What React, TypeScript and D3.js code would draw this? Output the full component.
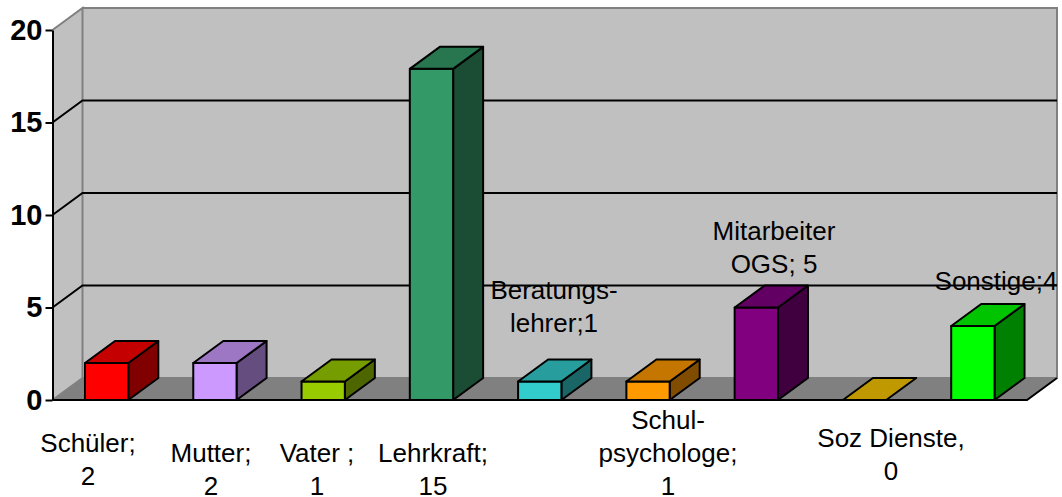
import { useEffect, useRef } from 'react';
import * as d3 from 'd3';

const categories = ['Schüler', 'Mutter', 'Vater', 'Lehrkraft', 'Beratungslehrer', 'Schulpsychologe', 'Mitarbeiter OGS', 'Soz Dienste', 'Sonstige'];
const values = [2, 2, 1, 17.9, 1, 1, 5, 0, 4];
const barColors = ['#ff0000', '#cc99ff', '#99cc00', '#339966', '#33cccc', '#ff9900', '#800080', '#cc9900', '#00ff00'];
const yTicks = [0, 5, 10, 15, 20];
const dataLabels = [
  ['Schüler;', '2'],
  ['Mutter;', '2'],
  ['Vater ;', '1'],
  ['Lehrkraft;', '15'],
  ['Beratungs-', 'lehrer;1'],
  ['Schul-', 'psychologe;', '1'],
  ['Mitarbeiter', 'OGS; 5'],
  ['Soz Dienste,', '0'],
  ['Sonstige;4'],
];
// hand placed label anchors: centre x, baseline of first line
const labelX = [88, 211, 317, 433, 554, 668, 774, 891, 996];
const labelY = [452, 462, 462, 462, 299, 429, 240, 447, 290];

const WIDTH = 1062;
const HEIGHT = 497;
const depthX = 30;
const depthY = 22;
const frontLeft = 52.5;
const frontRight = 1027;

export default function App() {
  const svgRef = useRef<SVGSVGElement>(null);

  useEffect(() => {
    if (!svgRef.current) return;
    const svg = d3.select(svgRef.current);
    svg.selectAll('*').remove();

    const x = d3.scaleBand<string>().domain(categories).range([frontLeft, frontRight]).paddingInner(0.6).paddingOuter(0.3);
    const y = d3.scaleLinear().domain([0, 20]).range([400, 30]);
    const poly = (pts: [number, number][]) => d3.line()(pts) + 'Z';

    const y0 = y(0);
    const yTop = y(20);

    // Walls and floor
    svg.append('path')
      .attr('d', poly([[frontLeft, yTop], [frontLeft + depthX, yTop - depthY], [frontLeft + depthX, y0 - depthY], [frontLeft, y0]]))
      .attr('fill', '#c0c0c0');
    svg.append('rect')
      .attr('x', frontLeft + depthX)
      .attr('y', yTop - depthY)
      .attr('width', frontRight - frontLeft)
      .attr('height', y0 - yTop)
      .attr('fill', '#c0c0c0');
    svg.append('path')
      .attr('d', poly([[frontLeft, y0], [frontLeft + depthX, y0 - depthY], [frontRight + depthX, y0 - depthY], [frontRight, y0]]))
      .attr('fill', '#808080');

    // Gray wall edges
    svg.append('path')
      .attr('d', d3.line()([[frontLeft, y0], [frontLeft + depthX, y0 - depthY], [frontLeft + depthX, yTop - depthY], [frontLeft, yTop]]))
      .attr('fill', 'none').attr('stroke', '#808080').attr('stroke-width', 2);
    svg.append('path')
      .attr('d', d3.line()([[frontLeft + depthX, yTop - depthY], [frontRight + depthX, yTop - depthY], [frontRight + depthX, y0 - depthY], [frontLeft + depthX, y0 - depthY]]))
      .attr('fill', 'none').attr('stroke', '#808080').attr('stroke-width', 2);

    // Gridlines
    yTicks.filter((t) => t > 0 && t < 20).forEach((t) => {
      svg.append('path')
        .attr('d', d3.line()([[frontLeft, y(t)], [frontLeft + depthX, y(t) - depthY], [frontRight + depthX, y(t) - depthY]]))
        .attr('fill', 'none').attr('stroke', '#000').attr('stroke-width', 2);
    });

    // Front floor edge
    svg.append('path')
      .attr('d', d3.line()([[frontLeft, y0], [frontRight, y0], [frontRight + depthX, y0 - depthY]]))
      .attr('fill', 'none').attr('stroke', '#000').attr('stroke-width', 2);

    // Bars
    categories.forEach((c, i) => {
      const color = d3.color(barColors[i])!;
      const shade = (k: number) => {
        const r = d3.rgb(color);
        return d3.rgb(r.r * k, r.g * k, r.b * k).formatHex();
      };
      const left = x(c)!;
      const right = left + x.bandwidth();
      const top = y(values[i]);
      const g = svg.append('g').attr('stroke', '#000').attr('stroke-width', 2).attr('stroke-linejoin', 'round');
      if (values[i] > 0) {
        g.append('path')
          .attr('d', poly([[right, top], [right + depthX, top - depthY], [right + depthX, y0 - depthY], [right, y0]]))
          .attr('fill', shade(0.5));
        g.append('rect')
          .attr('x', left)
          .attr('y', top)
          .attr('width', x.bandwidth())
          .attr('height', y0 - top)
          .attr('fill', barColors[i]);
      }
      g.append('path')
        .attr('d', poly([[left, top], [left + depthX, top - depthY], [right + depthX, top - depthY], [right, top]]))
        .attr('fill', values[i] > 0 ? shade(0.77) : '#c09900');
    });

    // Axis
    const axis = svg.append('g')
      .attr('transform', `translate(${frontLeft},0)`)
      .call(d3.axisLeft(y).tickValues(yTicks).tickSize(7).tickPadding(3).tickSizeOuter(0));
    axis.select('.domain').attr('stroke', '#000').attr('stroke-width', 2);
    axis.selectAll('.tick line').attr('stroke', '#000').attr('stroke-width', 2);
    axis.selectAll('text')
      .attr('font-family', '"Liberation Sans", Arial, sans-serif')
      .attr('font-size', 29)
      .attr('font-weight', 700)
      .attr('fill', '#000');

    // Data labels
    dataLabels.forEach((lines, i) => {
      const text = svg.append('text')
        .attr('text-anchor', 'middle')
        .attr('font-family', '"Liberation Sans", Arial, sans-serif')
        .attr('font-size', 26)
        .attr('fill', '#000');
      lines.forEach((line, j) => {
        text.append('tspan')
          .attr('x', labelX[i])
          .attr('y', labelY[i] + j * 33)
          .text(line);
      });
    });
  }, []);

  return <svg ref={svgRef} width={WIDTH} height={HEIGHT} style={{ position: 'absolute', left: 0, top: 0, background: '#fff' }} />;
}
